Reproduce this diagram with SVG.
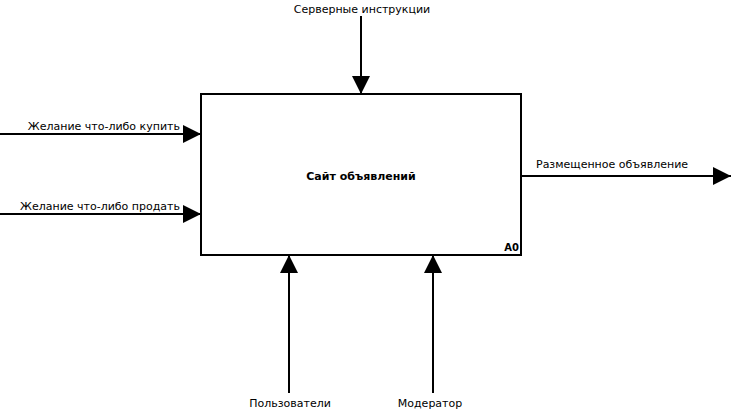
<svg xmlns="http://www.w3.org/2000/svg" width="746" height="411" viewBox="0 0 746 411">
<style>
text{font-family:"DejaVu Sans","Liberation Sans",sans-serif;font-size:11px;fill:#000}
.b{font-weight:bold}
.ln{stroke:#000;stroke-width:2;fill:none}
</style>
<defs>
<marker id="ah" markerUnits="userSpaceOnUse" markerWidth="20" markerHeight="20" refX="18" refY="9" orient="auto">
<path d="M0,0 L18,9 L0,18 Z" fill="#000"/>
</marker>
</defs>
<rect width="746" height="411" fill="#fff"/>
<g id="node-a0">
<rect x="201" y="94" width="320" height="161" class="ln"/>
<text x="361" y="180" text-anchor="middle" class="b">Сайт объявлений</text>
<text x="519" y="251" text-anchor="end" class="b" style="font-size:10px">A0</text>
</g>
<g id="connectors">
<path d="M361,16 V94" class="ln" marker-end="url(#ah)"/>
<path d="M0,134 H201" class="ln" marker-end="url(#ah)"/>
<path d="M0,214 H201" class="ln" marker-end="url(#ah)"/>
<path d="M521,176 H731" class="ln" marker-end="url(#ah)"/>
<path d="M289,393 V255" class="ln" marker-end="url(#ah)"/>
<path d="M433,393 V255" class="ln" marker-end="url(#ah)"/>
<text x="362" y="13" text-anchor="middle">Серверные инструкции</text>
<text x="180" y="130" text-anchor="end">Желание что-либо купить</text>
<text x="180" y="210" text-anchor="end">Желание что-либо продать</text>
<text x="536" y="168">Размещенное объявление</text>
<text x="290" y="407" text-anchor="middle">Пользователи</text>
<text x="430" y="407" text-anchor="middle">Модератор</text>
</g>
</svg>
